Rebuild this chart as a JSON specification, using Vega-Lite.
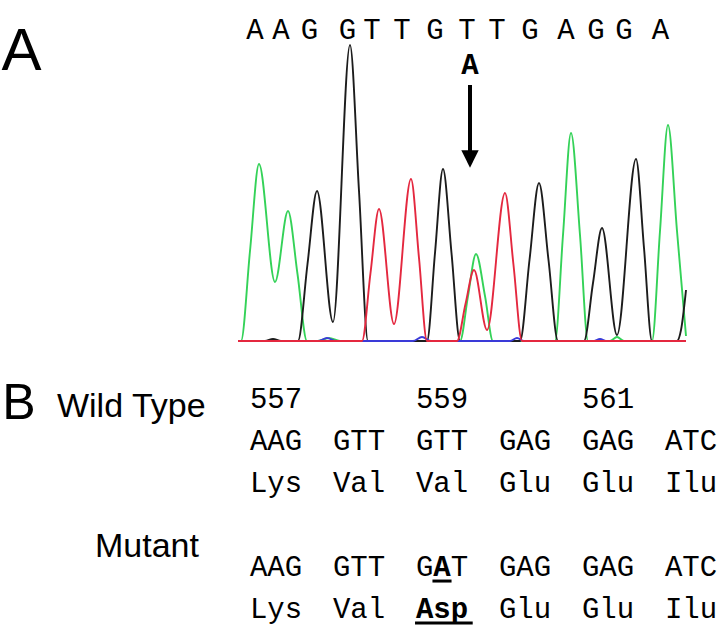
{
  "$schema": "https://vega.github.io/schema/vega-lite/v6.json",
  "width": 727,
  "height": 633,
  "autosize": {"type": "fit", "contains": "padding"},
  "padding": 0,
  "background": "white",
  "config": {"view": {"stroke": null}, "axis": {"disable": true}},
  "datasets": {
    "traces": [
      {"base": "A", "scan": 0, "signal": 0}, {"base": "A", "scan": 3, "signal": 0}, {"base": "A", "scan": 12, "signal": 900}, {"base": "A", "scan": 21, "signal": 1770}, {"base": "A", "scan": 37, "signal": 590}, {"base": "A", "scan": 50, "signal": 1300}, {"base": "A", "scan": 59.5, "signal": 670}, {"base": "A", "scan": 69, "signal": 0}, {"base": "A", "scan": 80, "signal": 0}, {"base": "A", "scan": 91, "signal": 30}, {"base": "A", "scan": 102, "signal": 0}, {"base": "A", "scan": 222, "signal": 0}, {"base": "A", "scan": 230, "signal": 450}, {"base": "A", "scan": 238, "signal": 870}, {"base": "A", "scan": 247, "signal": 450}, {"base": "A", "scan": 255, "signal": 0}, {"base": "A", "scan": 317, "signal": 0}, {"base": "A", "scan": 325, "signal": 1060}, {"base": "A", "scan": 333, "signal": 2080}, {"base": "A", "scan": 342, "signal": 1060}, {"base": "A", "scan": 350, "signal": 0}, {"base": "A", "scan": 372, "signal": 0}, {"base": "A", "scan": 379, "signal": 40}, {"base": "A", "scan": 386, "signal": 0}, {"base": "A", "scan": 414, "signal": 0}, {"base": "A", "scan": 422, "signal": 1100}, {"base": "A", "scan": 430, "signal": 2160}, {"base": "A", "scan": 439, "signal": 1100}, {"base": "A", "scan": 448, "signal": 50},
      {"base": "G", "scan": 0, "signal": 0}, {"base": "G", "scan": 27, "signal": 0}, {"base": "G", "scan": 35, "signal": 20}, {"base": "G", "scan": 43, "signal": 0}, {"base": "G", "scan": 60, "signal": 0}, {"base": "G", "scan": 69.5, "signal": 770}, {"base": "G", "scan": 79, "signal": 1500}, {"base": "G", "scan": 95, "signal": 190}, {"base": "G", "scan": 112, "signal": 2960}, {"base": "G", "scan": 121, "signal": 1500}, {"base": "G", "scan": 130, "signal": 0}, {"base": "G", "scan": 189, "signal": 0}, {"base": "G", "scan": 197, "signal": 880}, {"base": "G", "scan": 205, "signal": 1720}, {"base": "G", "scan": 213.5, "signal": 880}, {"base": "G", "scan": 222, "signal": 0}, {"base": "G", "scan": 282, "signal": 0}, {"base": "G", "scan": 291.5, "signal": 810}, {"base": "G", "scan": 301, "signal": 1580}, {"base": "G", "scan": 310.5, "signal": 810}, {"base": "G", "scan": 320, "signal": 0}, {"base": "G", "scan": 346, "signal": 0}, {"base": "G", "scan": 355, "signal": 580}, {"base": "G", "scan": 364, "signal": 1130}, {"base": "G", "scan": 379, "signal": 60}, {"base": "G", "scan": 398, "signal": 1820}, {"base": "G", "scan": 406, "signal": 930}, {"base": "G", "scan": 414, "signal": 0}, {"base": "G", "scan": 439, "signal": 0}, {"base": "G", "scan": 443, "signal": 110}, {"base": "G", "scan": 448, "signal": 510},
      {"base": "C", "scan": 0, "signal": 0}, {"base": "C", "scan": 80, "signal": 0}, {"base": "C", "scan": 89, "signal": 30}, {"base": "C", "scan": 98, "signal": 0}, {"base": "C", "scan": 175, "signal": 0}, {"base": "C", "scan": 184, "signal": 40}, {"base": "C", "scan": 193, "signal": 0}, {"base": "C", "scan": 272, "signal": 0}, {"base": "C", "scan": 279, "signal": 30}, {"base": "C", "scan": 286, "signal": 0}, {"base": "C", "scan": 355, "signal": 0}, {"base": "C", "scan": 362, "signal": 20}, {"base": "C", "scan": 369, "signal": 0}, {"base": "C", "scan": 448, "signal": 0},
      {"base": "T", "scan": 0, "signal": 0}, {"base": "T", "scan": 124, "signal": 0}, {"base": "T", "scan": 132.5, "signal": 680}, {"base": "T", "scan": 141, "signal": 1320}, {"base": "T", "scan": 156, "signal": 170}, {"base": "T", "scan": 173, "signal": 1620}, {"base": "T", "scan": 181, "signal": 830}, {"base": "T", "scan": 189, "signal": 0}, {"base": "T", "scan": 219, "signal": 0}, {"base": "T", "scan": 227.5, "signal": 370}, {"base": "T", "scan": 236, "signal": 710}, {"base": "T", "scan": 249, "signal": 110}, {"base": "T", "scan": 267, "signal": 1480}, {"base": "T", "scan": 275.5, "signal": 760}, {"base": "T", "scan": 284, "signal": 0}, {"base": "T", "scan": 448, "signal": 0}
    ],
    "calls": [
      {"scan": 17, "call": "A"}, {"scan": 43, "call": "A"}, {"scan": 71.5, "call": "G"}, {"scan": 109.5, "call": "G"}, {"scan": 134, "call": "T"}, {"scan": 164, "call": "T"}, {"scan": 197, "call": "G"}, {"scan": 229, "call": "T"}, {"scan": 259, "call": "T"}, {"scan": 292, "call": "G"}, {"scan": 328, "call": "A"}, {"scan": 358, "call": "G"}, {"scan": 386, "call": "G"}, {"scan": 422.5, "call": "A"}
    ],
    "mutation": [
      {"scan": 232, "call": "A", "labelSignal": 2670, "arrowTop": 2560, "arrowBottom": 1880, "tipSignal": 1820}
    ],
    "panelA": [{"panel": "A", "scan": -216.5, "signal": 2710}],
    "table": [
      {"codon": 557, "line": 0, "text": "557", "part": "whole", "changed": false},
      {"codon": 559, "line": 0, "text": "559", "part": "whole", "changed": false},
      {"codon": 561, "line": 0, "text": "561", "part": "whole", "changed": false},
      {"codon": 557, "line": 1, "text": "AAG", "part": "whole", "changed": false},
      {"codon": 558, "line": 1, "text": "GTT", "part": "whole", "changed": false},
      {"codon": 559, "line": 1, "text": "GTT", "part": "whole", "changed": false},
      {"codon": 560, "line": 1, "text": "GAG", "part": "whole", "changed": false},
      {"codon": 561, "line": 1, "text": "GAG", "part": "whole", "changed": false},
      {"codon": 562, "line": 1, "text": "ATC", "part": "whole", "changed": false},
      {"codon": 557, "line": 2, "text": "Lys", "part": "whole", "changed": false},
      {"codon": 558, "line": 2, "text": "Val", "part": "whole", "changed": false},
      {"codon": 559, "line": 2, "text": "Val", "part": "whole", "changed": false},
      {"codon": 560, "line": 2, "text": "Glu", "part": "whole", "changed": false},
      {"codon": 561, "line": 2, "text": "Glu", "part": "whole", "changed": false},
      {"codon": 562, "line": 2, "text": "Ilu", "part": "whole", "changed": false},
      {"codon": 557, "line": 4, "text": "AAG", "part": "whole", "changed": false},
      {"codon": 558, "line": 4, "text": "GTT", "part": "whole", "changed": false},
      {"codon": 559, "line": 4, "text": "G", "part": "first", "changed": false},
      {"codon": 559, "line": 4, "text": "A", "part": "second", "changed": true},
      {"codon": 559, "line": 4, "text": "T", "part": "third", "changed": false},
      {"codon": 560, "line": 4, "text": "GAG", "part": "whole", "changed": false},
      {"codon": 561, "line": 4, "text": "GAG", "part": "whole", "changed": false},
      {"codon": 562, "line": 4, "text": "ATC", "part": "whole", "changed": false},
      {"codon": 557, "line": 5, "text": "Lys", "part": "whole", "changed": false},
      {"codon": 558, "line": 5, "text": "Val", "part": "whole", "changed": false},
      {"codon": 559, "line": 5, "text": "Asp", "part": "whole", "changed": true},
      {"codon": 560, "line": 5, "text": "Glu", "part": "whole", "changed": false},
      {"codon": 561, "line": 5, "text": "Glu", "part": "whole", "changed": false},
      {"codon": 562, "line": 5, "text": "Ilu", "part": "whole", "changed": false}
    ],
    "rowLabels": [
      {"label": "Wild Type", "codon": 554.361, "line": 0.214},
      {"label": "Mutant", "codon": 554.819, "line": 3.548}
    ],
    "underlines": [
      {"start": 558.885, "end": 559.115, "line": 4.12},
      {"start": 558.675, "end": 559.37, "line": 5.12}
    ],
    "panelB": [{"panel": "B", "codon": 553.904, "line": 0.262}]
  },
  "layer": [
    {
      "layer": [
        {
          "data": {"name": "traces"},
          "transform": [{"filter": "datum.base === 'A'"}],
          "mark": {"type": "line", "interpolate": "monotone", "color": "#34d258", "strokeWidth": 1.9},
          "encoding": {
            "x": {"field": "scan", "type": "quantitative", "scale": {"domain": [-238, 489], "nice": false, "zero": false}, "axis": null},
            "y": {"field": "signal", "type": "quantitative", "scale": {"domain": [-2920, 3410], "nice": false, "zero": false}, "axis": null}
          }
        },
        {
          "data": {"name": "traces"},
          "transform": [{"filter": "datum.base === 'G'"}],
          "mark": {"type": "line", "interpolate": "monotone", "color": "#1c1c1c", "strokeWidth": 1.9},
          "encoding": {
            "x": {"field": "scan", "type": "quantitative", "scale": {"domain": [-238, 489], "nice": false, "zero": false}, "axis": null},
            "y": {"field": "signal", "type": "quantitative", "scale": {"domain": [-2920, 3410], "nice": false, "zero": false}, "axis": null}
          }
        },
        {
          "data": {"name": "traces"},
          "transform": [{"filter": "datum.base === 'C'"}],
          "mark": {"type": "line", "interpolate": "monotone", "color": "#3a3ad8", "strokeWidth": 1.9},
          "encoding": {
            "x": {"field": "scan", "type": "quantitative", "scale": {"domain": [-238, 489], "nice": false, "zero": false}, "axis": null},
            "y": {"field": "signal", "type": "quantitative", "scale": {"domain": [-2920, 3410], "nice": false, "zero": false}, "axis": null}
          }
        },
        {
          "data": {"name": "traces"},
          "transform": [{"filter": "datum.base === 'T'"}],
          "mark": {"type": "line", "interpolate": "monotone", "color": "#e4283f", "strokeWidth": 1.9},
          "encoding": {
            "x": {"field": "scan", "type": "quantitative", "scale": {"domain": [-238, 489], "nice": false, "zero": false}, "axis": null},
            "y": {"field": "signal", "type": "quantitative", "scale": {"domain": [-2920, 3410], "nice": false, "zero": false}, "axis": null}
          }
        },
        {
          "data": {"name": "calls"},
          "mark": {"type": "text", "font": "Liberation Mono", "fontSize": 29, "baseline": "alphabetic", "align": "center", "color": "black"},
          "encoding": {
            "x": {"field": "scan", "type": "quantitative", "scale": {"domain": [-238, 489], "nice": false, "zero": false}, "axis": null},
            "y": {"datum": 3020, "type": "quantitative", "scale": {"domain": [-2920, 3410], "nice": false, "zero": false}, "axis": null},
            "text": {"field": "call"}
          }
        },
        {
          "data": {"name": "mutation"},
          "mark": {"type": "text", "font": "Liberation Mono", "fontSize": 29, "fontWeight": "bold", "baseline": "alphabetic", "align": "center", "color": "black"},
          "encoding": {
            "x": {"field": "scan", "type": "quantitative", "scale": {"domain": [-238, 489], "nice": false, "zero": false}, "axis": null},
            "y": {"field": "labelSignal", "type": "quantitative", "scale": {"domain": [-2920, 3410], "nice": false, "zero": false}, "axis": null},
            "text": {"field": "call"}
          }
        },
        {
          "data": {"name": "mutation"},
          "mark": {"type": "rule", "color": "black", "strokeWidth": 4},
          "encoding": {
            "x": {"field": "scan", "type": "quantitative", "scale": {"domain": [-238, 489], "nice": false, "zero": false}, "axis": null},
            "y": {"field": "arrowTop", "type": "quantitative", "scale": {"domain": [-2920, 3410], "nice": false, "zero": false}, "axis": null},
            "y2": {"field": "arrowBottom"}
          }
        },
        {
          "data": {"name": "mutation"},
          "mark": {"type": "point", "shape": "M-1,-1L1,-1L0,1Z", "filled": true, "color": "black", "opacity": 1, "size": 300, "strokeWidth": 0},
          "encoding": {
            "x": {"field": "scan", "type": "quantitative", "scale": {"domain": [-238, 489], "nice": false, "zero": false}, "axis": null},
            "y": {"field": "tipSignal", "type": "quantitative", "scale": {"domain": [-2920, 3410], "nice": false, "zero": false}, "axis": null}
          }
        },
        {
          "data": {"name": "panelA"},
          "mark": {"type": "text", "font": "Liberation Sans", "fontSize": 60, "baseline": "alphabetic", "align": "center", "color": "black"},
          "encoding": {
            "x": {"field": "scan", "type": "quantitative", "scale": {"domain": [-238, 489], "nice": false, "zero": false}, "axis": null},
            "y": {"field": "signal", "type": "quantitative", "scale": {"domain": [-2920, 3410], "nice": false, "zero": false}, "axis": null},
            "text": {"field": "panel"}
          }
        }
      ]
    },
    {
      "layer": [
        {
          "data": {"name": "table"},
          "transform": [{"filter": "!datum.changed && datum.part === 'whole'"}],
          "mark": {"type": "text", "font": "Liberation Mono", "fontSize": 29, "baseline": "alphabetic", "align": "center", "color": "black"},
          "encoding": {
            "x": {"field": "codon", "type": "quantitative", "scale": {"domain": [553.6747, 562.4337], "nice": false, "zero": false}, "axis": null},
            "y": {"field": "line", "type": "quantitative", "scale": {"domain": [-9.714, 5.357], "nice": false, "zero": false, "reverse": true}, "axis": null},
            "text": {"field": "text"}
          }
        },
        {
          "data": {"name": "table"},
          "transform": [{"filter": "datum.part === 'first'"}],
          "mark": {"type": "text", "font": "Liberation Mono", "fontSize": 29, "baseline": "alphabetic", "align": "center", "color": "black", "dx": -17.4},
          "encoding": {
            "x": {"field": "codon", "type": "quantitative", "scale": {"domain": [553.6747, 562.4337], "nice": false, "zero": false}, "axis": null},
            "y": {"field": "line", "type": "quantitative", "scale": {"domain": [-9.714, 5.357], "nice": false, "zero": false, "reverse": true}, "axis": null},
            "text": {"field": "text"}
          }
        },
        {
          "data": {"name": "table"},
          "transform": [{"filter": "datum.part === 'third'"}],
          "mark": {"type": "text", "font": "Liberation Mono", "fontSize": 29, "baseline": "alphabetic", "align": "center", "color": "black", "dx": 17.4},
          "encoding": {
            "x": {"field": "codon", "type": "quantitative", "scale": {"domain": [553.6747, 562.4337], "nice": false, "zero": false}, "axis": null},
            "y": {"field": "line", "type": "quantitative", "scale": {"domain": [-9.714, 5.357], "nice": false, "zero": false, "reverse": true}, "axis": null},
            "text": {"field": "text"}
          }
        },
        {
          "data": {"name": "table"},
          "transform": [{"filter": "datum.changed"}],
          "mark": {"type": "text", "font": "Liberation Mono", "fontSize": 29, "fontWeight": "bold", "baseline": "alphabetic", "align": "center", "color": "black"},
          "encoding": {
            "x": {"field": "codon", "type": "quantitative", "scale": {"domain": [553.6747, 562.4337], "nice": false, "zero": false}, "axis": null},
            "y": {"field": "line", "type": "quantitative", "scale": {"domain": [-9.714, 5.357], "nice": false, "zero": false, "reverse": true}, "axis": null},
            "text": {"field": "text"}
          }
        },
        {
          "data": {"name": "underlines"},
          "mark": {"type": "rule", "color": "black", "strokeWidth": 3},
          "encoding": {
            "x": {"field": "start", "type": "quantitative", "scale": {"domain": [553.6747, 562.4337], "nice": false, "zero": false}, "axis": null},
            "x2": {"field": "end"},
            "y": {"field": "line", "type": "quantitative", "scale": {"domain": [-9.714, 5.357], "nice": false, "zero": false, "reverse": true}, "axis": null}
          }
        },
        {
          "data": {"name": "rowLabels"},
          "mark": {"type": "text", "font": "Liberation Sans", "fontSize": 34, "baseline": "alphabetic", "align": "left", "color": "black"},
          "encoding": {
            "x": {"field": "codon", "type": "quantitative", "scale": {"domain": [553.6747, 562.4337], "nice": false, "zero": false}, "axis": null},
            "y": {"field": "line", "type": "quantitative", "scale": {"domain": [-9.714, 5.357], "nice": false, "zero": false, "reverse": true}, "axis": null},
            "text": {"field": "label"}
          }
        },
        {
          "data": {"name": "panelB"},
          "mark": {"type": "text", "font": "Liberation Sans", "fontSize": 50, "baseline": "alphabetic", "align": "center", "color": "black"},
          "encoding": {
            "x": {"field": "codon", "type": "quantitative", "scale": {"domain": [553.6747, 562.4337], "nice": false, "zero": false}, "axis": null},
            "y": {"field": "line", "type": "quantitative", "scale": {"domain": [-9.714, 5.357], "nice": false, "zero": false, "reverse": true}, "axis": null},
            "text": {"field": "panel"}
          }
        }
      ]
    }
  ],
  "resolve": {"scale": {"x": "independent", "y": "independent"}}
}
